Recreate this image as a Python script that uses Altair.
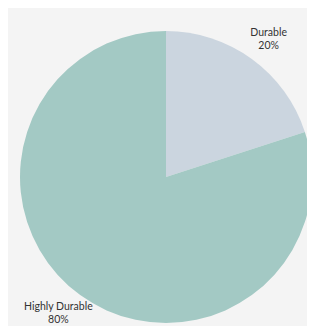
import altair as alt
import pandas as pd

categories = ["Durable", "Highly Durable"]
values = [20, 80]
colors = ["#cbd5df", "#a3c9c4"]

df = pd.DataFrame({
    "category": categories,
    "value": values,
    "order": [0, 1],
})
df["label"] = df["category"] + "\n" + df["value"].astype(str) + "%"

base = alt.Chart(df).encode(
    theta=alt.Theta("value:Q", stack=True),
    order=alt.Order("order:Q"),
)

arc = base.mark_arc(outerRadius=146, stroke=None).encode(
    color=alt.Color("category:N", scale=alt.Scale(domain=categories, range=colors), legend=None),
    x=alt.value(158),
    y=alt.value(169),
)

text_style = dict(lineBreak="\n", font="Lato", fontSize=10.5, color="#333333",
                  align="center", baseline="middle", lineHeight=13)

text_top = base.transform_calculate(
    lab="datum.category == 'Durable' ? datum.label : ''"
).mark_text(radius=178, dx=-2, **text_style).encode(
    text="lab:N", x=alt.value(158), y=alt.value(169),
)

text_bottom = base.transform_calculate(
    lab="datum.category == 'Highly Durable' ? datum.label : ''"
).mark_text(radius=161, dx=-13, **text_style).encode(
    text="lab:N", x=alt.value(158), y=alt.value(169),
)

chart = alt.layer(arc, text_top, text_bottom).properties(
    width=299, height=318, padding=0, autosize=alt.AutoSizeParams(type="none"),
    background="#f4f4f4",
).configure_view(stroke=None)

chart.save("out.html", embed_options={"renderer": "svg", "actions": False})
